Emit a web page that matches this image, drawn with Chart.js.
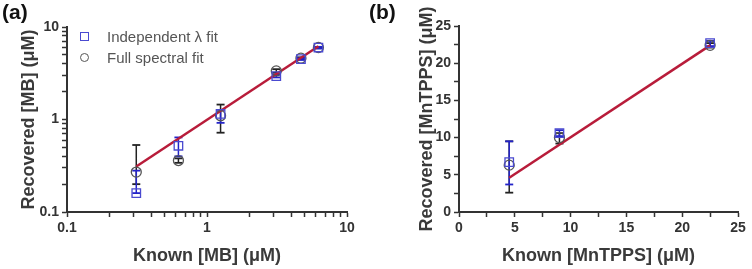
<!DOCTYPE html>
<html>
<head>
<meta charset="utf-8">
<script src="https://cdn.jsdelivr.net/npm/chart.js@4.4.1/dist/chart.umd.min.js"></script>
<style>
  body { margin: 0; background: #fff; font-family: "Liberation Sans", Arial, sans-serif; }
  .panel { position: absolute; top: 0; width: 376px; height: 269px; }
  .tag { position: absolute; font-weight: bold; font-size: 21px; color: #111; }
  .legend { position: absolute; left: 78px; top: 26px; font-size: 15px; color: #555; line-height: 21px; }
  .legend div { position: relative; padding-left: 29px; }
  .sym { position: absolute; left: 2px; top: 6px; width: 7px; height: 7px; border: 1.3px solid #4a4ad0; }
  .sym.circ { border-color: #555; border-radius: 50%; }
</style>
</head>
<body>
<div class="panel" style="left:0"><canvas id="chartA" width="376" height="269"></canvas></div>
<div class="panel" style="left:376px"><canvas id="chartB" width="376" height="269"></canvas></div>
<div class="tag" style="left:2px; top:0px">(a)</div>
<div class="tag" style="left:369px; top:0px">(b)</div>
<div class="legend">
  <div><span class="sym"></span>Independent λ fit</div>
  <div><span class="sym circ"></span>Full spectral fit</div>
</div>
<script>
// panel (a) - methylene blue, log-log
var knownMB = [0.3125, 0.625, 1.25, 3.125, 4.6875, 6.25];
var indepMB = [0.16, 0.52, 1.15, 2.95, 4.5, 6.0];
var indepMBLow = [0.16, 0.40, 0.92, 2.85, 4.4, 5.85];
var indepMBHigh = [0.28, 0.64, 1.27, 3.05, 4.6, 6.1];
var fullMB = [0.27, 0.36, 1.1, 3.35, 4.6, 6.0];
var fullMBLow = [0.2, 0.34, 0.72, 3.2, 4.5, 5.9];
var fullMBHigh = [0.53, 0.38, 1.45, 3.5, 4.7, 6.1];
var fitMBx = [0.3125, 6.25];
var fitMBy = [0.31, 6.2];
var logTicks = [0.1, 0.2, 0.3, 0.4, 0.5, 0.6, 0.7, 0.8, 0.9, 1, 2, 3, 4, 5, 6, 7, 8, 9, 10];

// panel (b) - MnTPPS, linear
var knownMn = [4.5, 9, 22.5];
var indepMn = [6.7, 10.6, 22.7];
var indepMnLow = [3.7, 10.2, 22.3];
var indepMnHigh = [9.5, 11.0, 23.0];
var fullMn = [6.3, 10.0, 22.4];
var fullMnLow = [2.6, 9.2, 22.1];
var fullMnHigh = [9.5, 10.6, 22.7];
var fitMnx = [4.5, 22.5];
var fitMny = [4.6, 22.4];
var linTicks = [0, 2.5, 5, 7.5, 10, 12.5, 15, 17.5, 20, 22.5, 25];
var linLabels = [0, 5, 10, 15, 20, 25];

var FONT = '"Liberation Sans", Arial, sans-serif';
var BLUE = '#4a4ad0';
var GRAY = '#555';

function pts(xs, ys) {
    return xs.map(function (x, i) { return { x: x, y: ys[i] }; });
}

// vertical bars split by nulls, caps drawn by the 'line' point style
function errBars(xs, lo, hi) {
    var out = [];
    xs.forEach(function (x, i) {
        out.push({ x: x, y: lo[i] }, { x: x, y: hi[i] }, { x: x, y: null });
    });
    return out;
}

function buildDatasets(xs, ind, indLo, indHi, full, fullLo, fullHi, fx, fy) {
    return [
        { data: errBars(xs, fullLo, fullHi), showLine: true, borderColor: '#222', borderWidth: 1.5,
          pointStyle: 'line', pointRadius: 4, pointBorderColor: '#222', pointBorderWidth: 1.8, order: 5 },
        { data: errBars(xs, indLo, indHi), showLine: true, borderColor: '#2323c8', borderWidth: 1.5,
          pointStyle: 'line', pointRadius: 4, pointBorderColor: '#2323c8', pointBorderWidth: 1.8, order: 4 },
        { data: pts(fx, fy), showLine: true, borderColor: '#b81c3a', borderWidth: 2.5, pointRadius: 0, order: 3 },
        { data: pts(xs, full), pointStyle: 'circle', pointRadius: 5, borderColor: GRAY, borderWidth: 1.3,
          backgroundColor: 'rgba(255,255,255,0)', order: 2 },
        { data: pts(xs, ind), pointStyle: 'rect', pointRadius: 6, borderColor: BLUE, borderWidth: 1.3,
          backgroundColor: 'rgba(255,255,255,0)', order: 1 }
    ];
}

function axis(type, min, max, tickVals, labelFn, title, isY, fitSize) {
    return {
        type: type, min: min, max: max,
        afterBuildTicks: function (scale) {
            scale.ticks = tickVals.map(function (v) { return { value: v }; });
        },
        afterFit: function (scale) {
            if (isY) scale.width = fitSize; else scale.height = fitSize;
        },
        grid: { drawOnChartArea: false, drawTicks: true, tickLength: 5, tickColor: '#333', tickWidth: 1.5 },
        border: { display: true, color: '#333', width: 2 },
        ticks: {
            autoSkip: false, maxRotation: 0, padding: 3, color: '#333',
            font: { family: FONT, size: 14, weight: 'bold' },
            callback: function (v) { return labelFn(v); }
        },
        title: { display: true, text: title, color: '#3a3a3a', padding: { top: 4, bottom: 2 },
                 font: { family: FONT, size: 18, weight: 'bold' } }
    };
}

function logLabel(v) {
    var l = Math.log10(v);
    return Math.abs(l - Math.round(l)) < 1e-6 ? String(v) : '';
}
function linLabel(v) {
    return linLabels.indexOf(v) >= 0 ? String(v) : '';
}

new Chart(document.getElementById('chartA').getContext('2d'), {
    type: 'scatter',
    data: { datasets: buildDatasets(knownMB, indepMB, indepMBLow, indepMBHigh, fullMB, fullMBLow, fullMBHigh, fitMBx, fitMBy) },
    options: {
        responsive: false, animation: false,
        layout: { padding: { left: 14, top: 27, right: 29, bottom: 0 } },
        plugins: { legend: { display: false }, tooltip: { enabled: false } },
        scales: {
            x: axis('logarithmic', 0.1, 10, logTicks, logLabel, 'Known [MB] (μM)', false, 57),
            y: axis('logarithmic', 0.1, 10, logTicks, logLabel, 'Recovered [MB] (μM)', true, 53)
        }
    }
});

new Chart(document.getElementById('chartB').getContext('2d'), {
    type: 'scatter',
    data: { datasets: buildDatasets(knownMn, indepMn, indepMnLow, indepMnHigh, fullMn, fullMnLow, fullMnHigh, fitMnx, fitMny) },
    options: {
        responsive: false, animation: false,
        layout: { padding: { left: 36, top: 26, right: 14, bottom: 0 } },
        plugins: { legend: { display: false }, tooltip: { enabled: false } },
        scales: {
            x: axis('linear', 0, 25, linTicks, linLabel, 'Known [MnTPPS] (μM)', false, 57),
            y: axis('linear', 0, 25, linTicks, linLabel, 'Recovered [MnTPPS] (μM)', true, 47)
        }
    }
});
</script>
</body>
</html>
